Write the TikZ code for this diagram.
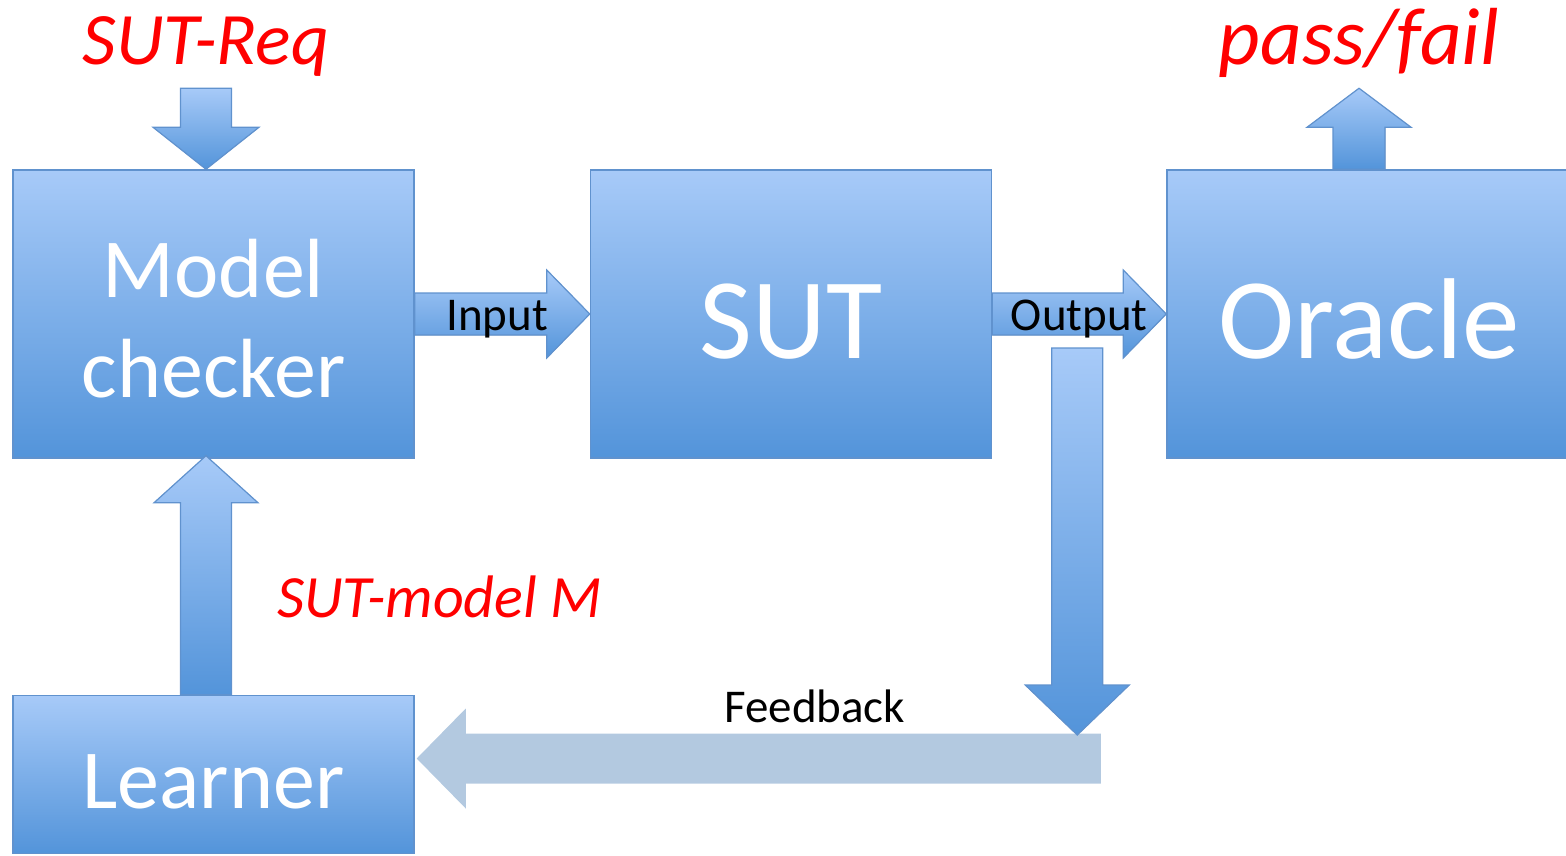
\documentclass[tikz,border=0pt]{standalone}
\usepackage{fontspec}
\setmainfont{Carlito}
\usepackage{tikz}
\usetikzlibrary{calc,positioning}

\definecolor{boxtop}{RGB}{167,202,248}
\definecolor{boxbot}{RGB}{83,148,218}
\definecolor{boxline}{RGB}{96,146,206}
\definecolor{fbblue}{RGB}{179,201,224}

\tikzset{
	box/.style={draw=boxline, line width=1.5pt, top color=boxtop, bottom color=boxbot,
		minimum width=401pt, minimum height=288pt, inner sep=0pt, text=white, align=center},
	barrow/.style={draw=boxline, line width=1.2pt, line join=miter, top color=boxtop, bottom color=boxbot},
	fbarrow/.style={fill=fbblue, draw=none},
	lbl/.style={inner sep=0pt, font=\fontsize{47}{56}\selectfont},
	redlbl/.style={inner sep=0pt, text=red, font=\itshape\fontsize{74}{88}\selectfont}
}

% block arrow: [style]{tail}{tip}{half shaft}{head length}{half head}
\newcommand{\blockarrow}[6][barrow]{%
	\coordinate (neck) at ($(#3)!#5!(#2)$);
	\filldraw[#1] ($(#2)!#4!90:(#3)$) -- ($(neck)!#4!90:(#3)$) -- ($(neck)!#6!90:(#3)$) -- (#3)
		-- ($(neck)!#6!-90:(#3)$) -- ($(neck)!#4!-90:(#3)$) -- ($(#2)!#4!-90:(#3)$) -- cycle;
}

\begin{document}
\begin{tikzpicture}[x=1pt, y=-1pt]
	\useasboundingbox (0,0) rectangle (1566,855);

	% the four blocks
	\node[box, font=\fontsize{84}{100}\selectfont] (mc) at (213.5,314) {\rule{0pt}{68pt}Model\\checker};
	\node[box, font=\fontsize{115}{130}\selectfont, text height=88pt, text depth=0pt,
		right=175pt of mc] (sut) {SUT};
	\node[box, minimum width=404pt, font=\fontsize{115}{130}\selectfont, text height=88pt, text depth=0pt,
		right=174pt of sut] (oracle) {Oracle};
	\node[box, minimum height=158pt, font=\fontsize{84}{100}\selectfont, text height=68pt, text depth=0pt,
		below=236pt of mc] (learner) {Learner};

	\coordinate (reqtip) at ($(mc.north)+(-7.5,0)$);
	\coordinate (reqtail) at ($(reqtip)+(0,-81)$);
	\coordinate (mtip) at ($(mc.south)+(-7.5,-3)$);
	\coordinate (mtail) at ($(learner.north)+(-7.5,0)$);
	\coordinate (pftail) at ($(oracle.north)+(-10,0)$);
	\coordinate (pftip) at ($(pftail)+(0,-81)$);
	\coordinate (fbtop) at ($(sut.east)+(85,34)$);
	\coordinate (fbbot) at ($(fbtop)+(0,387)$);
	\coordinate (fbtail) at ($(learner.east)+(686,-16)$);
	\coordinate (fbhead) at ($(learner.east)+(2,-16)$);

	% arrows
	\blockarrow{reqtail}{reqtip}{25.5pt}{42pt}{53pt}
	\blockarrow{mtail}{mtip}{25.5pt}{47pt}{52pt}
	\blockarrow{mc.east}{sut.west}{21pt}{43pt}{44pt}
	\blockarrow{sut.east}{oracle.west}{21pt}{43pt}{44pt}
	\blockarrow{pftail}{pftip}{26pt}{39pt}{52pt}
	\blockarrow[fbarrow]{fbtail}{fbhead}{25pt}{49pt}{50pt}
	\blockarrow{fbtop}{fbbot}{25.5pt}{50pt}{52pt}

	% labels
	\node[lbl, anchor=base] (inlbl) at ($(mc.east)!0.5!(sut.west)+(-5,16)$) {Input};
	\node[lbl, anchor=base] (outlbl) at ($(sut.east)!0.5!(oracle.west)+(0,16)$) {Output};
	\node[lbl, anchor=base] (fblbl) at ($(fbhead)!0.5!(fbtail)+(56,-36)$) {Feedback};
	\node[redlbl, anchor=base] (req) at ($(reqtail)+(0,-24)$) {SUT-Req};
	\node[redlbl, font=\itshape\fontsize{81}{96}\selectfont, anchor=base] (pf) at ($(pftip)+(0,-24)$) {pass/fail};
	\node[redlbl, font=\itshape\fontsize{60}{72}\selectfont, anchor=base west] (model) at ($(mtail)+(71,-77)$) {SUT-model M};
\end{tikzpicture}
\end{document}
